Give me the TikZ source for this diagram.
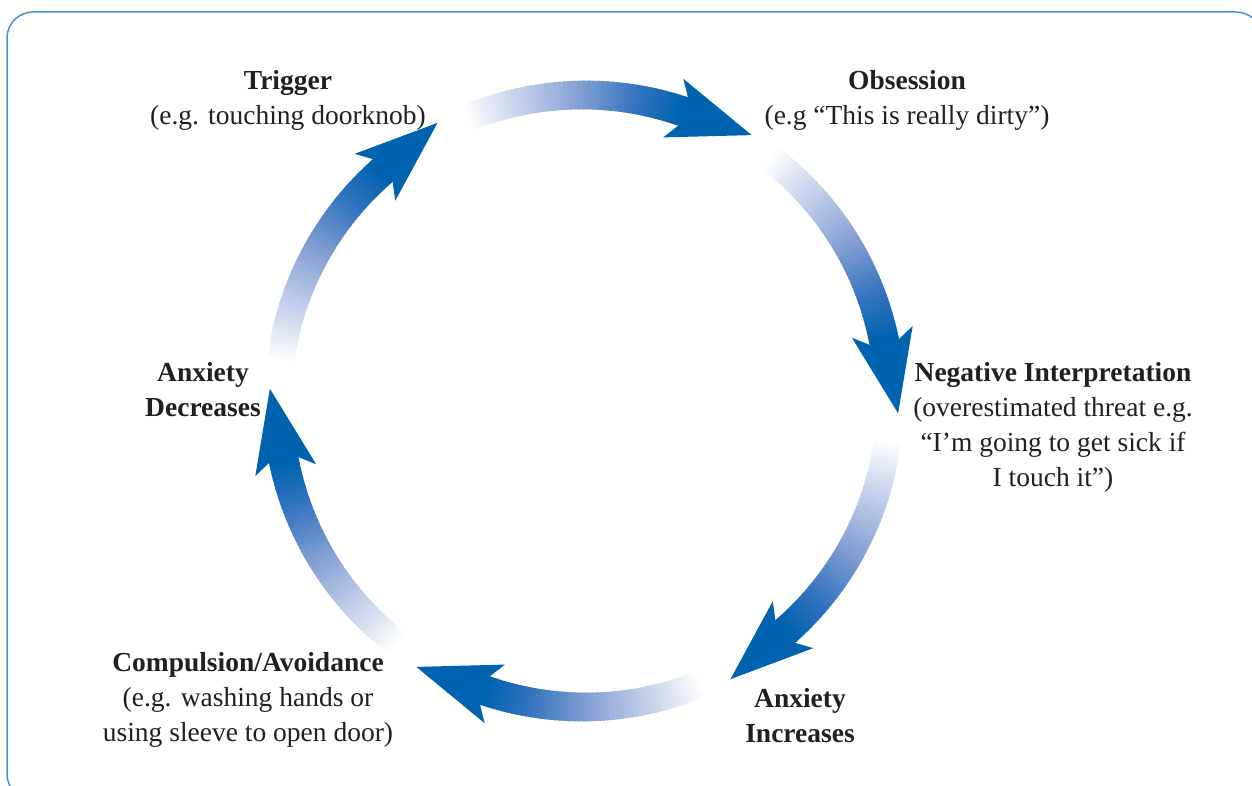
\documentclass[tikz,border=0pt]{standalone}
\usepackage{fontspec}
\setmainfont{Liberation Serif}
\usetikzlibrary{calc}
\definecolor{framecol}{RGB}{74,144,208}
\definecolor{headcol}{RGB}{0,99,175}
\definecolor{inkcol}{RGB}{35,31,32}
\tikzset{
  lbl/.style={align=center, text=inkcol, inner sep=0pt,
    font=\fontsize{27.5}{35}\selectfont},
}

\begin{document}
\begin{tikzpicture}[x=1pt,y=-1pt]
  \useasboundingbox (0,0) rectangle (1252,786);
  \draw[framecol, line width=1.5pt, rounded corners=26pt] (7,12) rectangle (1262,800);
  \coordinate (c) at (584,401);
  % six fading arrows round the cycle
  \foreach \k in {0,...,5}{
    \pgfmathsetmacro\tail{-113+60*\k}
    \pgfmathsetmacro\base{-71+60*\k}
    \foreach \i in {0,...,47}{
      \pgfmathsetmacro\t{\i/47}
      \pgfmathsetmacro\a{\tail+(\base-\tail)*\i/48}
      \pgfmathsetmacro\b{\a+(\base-\tail)/48+0.5}
      \pgfmathsetmacro\w{27+3*\t}
      \pgfmathtruncatemacro\rr{\t<0.5 ? 255-230*\t : (\t<0.8 ? 140-300*(\t-0.5) : 50-250*(\t-0.8))}
      \pgfmathtruncatemacro\gg{\t<0.5 ? 255-180*\t : (\t<0.8 ? 165-166.7*(\t-0.5) : 115-80*(\t-0.8))}
      \pgfmathtruncatemacro\bb{\t<0.5 ? 255-80*\t : (\t<0.8 ? 215-83.3*(\t-0.5) : 190-75*(\t-0.8))}
      \definecolor{segcol}{RGB}{\rr,\gg,\bb}
      \draw[segcol, line width=\w pt] (c) ++(\a:306) arc[start angle=\a, end angle=\b, radius=306];
    }
    \path (c) ++(\base:306) coordinate (hb);
    \fill[headcol] ($(hb)+({\base+90}:72)$)
      -- ($(hb)+(\base:31)+({\base+90}:-11)$)
      -- ($(hb)+(\base:14)$)
      -- ($(hb)+(\base:-14)$)
      -- ($(hb)+(\base:-31)+({\base+90}:-11)$) -- cycle;
  }
  % labels
  \node[lbl] (trig) at (288,100) {\textbf{Trigger}\\(e.g. touching doorknob)};
  \node[lbl] (obs) at (907,100) {\textbf{Obsession}\\(e.g “This is really dirty”)};
  \node[lbl] (negint) at (1053,427) {\textbf{Negative Interpretation}\\(overestimated threat e.g.\\“I’m going to get sick if\\I touch it”)};
  \node[lbl] (anxinc) at (800,716) {\textbf{Anxiety}\\\textbf{Increases}};
  \node[lbl] (comp) at (248,700) {\textbf{Compulsion/Avoidance}\\(e.g. washing hands or\\using sleeve to open door)};
  \node[lbl] (anxdec) at (203,390) {\textbf{Anxiety}\\\textbf{Decreases}};
\end{tikzpicture}
\end{document}
